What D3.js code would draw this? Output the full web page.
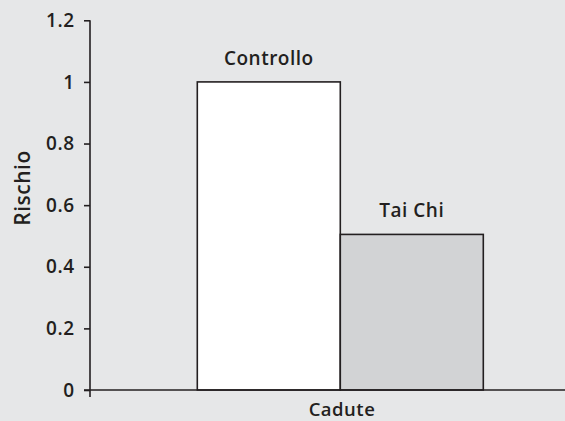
<!DOCTYPE html>
<html><head><meta charset="utf-8">
<script src="https://cdn.jsdelivr.net/npm/d3@7"></script>
<style>
html,body{margin:0;padding:0;background:#e6e7e8;}
svg{display:block;}
text{font-family:"Open Sans",sans-serif;font-weight:600;fill:#231f20;letter-spacing:0.5px;}
</style></head>
<body>
<script>
const categories = ["Controllo", "Tai Chi"];
const values = [1.0, 0.505];
const fills = ["#ffffff", "#d2d3d5"];
const yTicks = [0, 0.2, 0.4, 0.6, 0.8, 1, 1.2];
const yTickLabels = ["0", "0.2", "0.4", "0.6", "0.8", "1", "1.2"];
const xTitle = "Cadute";
const yTitle = "Rischio";

const W = 565, H = 421;
const svg = d3.select("body").append("svg").attr("width", W).attr("height", H);
svg.append("rect").attr("width", W).attr("height", H).attr("fill", "#e6e7e8");

const y = d3.scaleLinear().domain([0, 1.2]).range([390, 20.3]);
const x = d3.scaleBand().domain(categories).range([197.3, 483.3]).padding(0);
const axisX0 = 90, axisXEnd = 565;
const ink = "#231f20";

// bars
svg.selectAll("rect.bar").data(categories).enter().append("rect")
  .attr("class", "bar")
  .attr("x", d => x(d))
  .attr("width", x.bandwidth())
  .attr("y", (d, i) => y(values[i]))
  .attr("height", (d, i) => y(0) - y(values[i]))
  .attr("fill", (d, i) => fills[i])
  .attr("stroke", ink).attr("stroke-width", 1.6);

// bar labels
svg.selectAll("text.lab").data(categories).enter().append("text")
  .attr("class", "lab")
  .attr("x", d => x(d) + x.bandwidth() / 2)
  .attr("y", (d, i) => y(values[i]) - 17)
  .attr("text-anchor", "middle")
  .attr("font-size", 19)
  .text(d => d);

// y axis
const yAxis = d3.axisLeft(y).tickValues(yTicks)
  .tickFormat((d, i) => yTickLabels[i]).tickSize(6).tickPadding(9.5);
const gy = svg.append("g").attr("transform", `translate(${axisX0},0)`).call(yAxis);
gy.select(".domain").remove();
gy.append("line").attr("x1", 0).attr("x2", 0).attr("y1", y(1.2)).attr("y2", y(0) + 7)
  .attr("stroke", ink).attr("stroke-width", 1.6);
gy.selectAll(".tick line").attr("stroke", ink).attr("stroke-width", 1.6);
gy.selectAll(".tick text").attr("font-size", 19).attr("fill", ink)
  .style("font-family", "'Open Sans',sans-serif").style("font-weight", 600);

// x axis line
svg.append("line").attr("x1", axisX0 - 6).attr("x2", axisXEnd)
  .attr("y1", y(0)).attr("y2", y(0)).attr("stroke", ink).attr("stroke-width", 1.6);

// titles
svg.append("text").attr("x", 342).attr("y", 416).attr("text-anchor", "middle")
  .attr("font-size", 18.5).text(xTitle);
svg.append("text").attr("transform", "translate(30,188) rotate(-90)")
  .attr("text-anchor", "middle").attr("font-size", 21).text(yTitle);
</script>
</body></html>
